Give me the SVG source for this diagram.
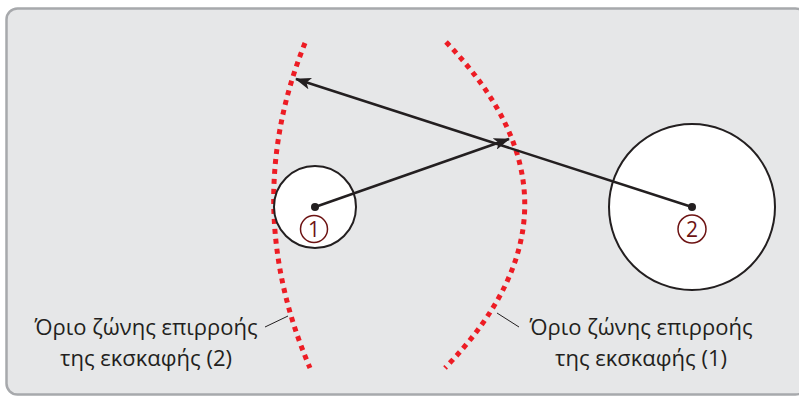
<svg xmlns="http://www.w3.org/2000/svg" width="799" height="397" viewBox="0 0 799 397">
<style>
.frame{fill:#e6e7e8;stroke:#a7a9ac;stroke-width:2.5}
.zone{fill:none;stroke:#ed1c24;stroke-width:5;stroke-dasharray:5 5}
.site{fill:#ffffff;stroke:#231f20;stroke-width:2}
.arrow{fill:none;stroke:#231f20;stroke-width:2.5;marker-end:url(#ah)}
.lead{fill:none;stroke:#231f20;stroke-width:1}
.lbl{font-family:"Open Sans","Noto Sans","DejaVu Sans",sans-serif;font-size:22px;fill:#231f20;text-anchor:middle}
.num{font-family:"Open Sans","Noto Sans","DejaVu Sans",sans-serif;font-size:21px;fill:#6d1313;text-anchor:middle}
.numc{fill:none;stroke:#6d1313;stroke-width:1.5}
</style>
<defs>
<marker id="ah" viewBox="0 0 16 12" refX="15" refY="6" markerWidth="16" markerHeight="12" markerUnits="userSpaceOnUse" orient="auto">
<path d="M0,0 L16,6 L0,12 L4,6 Z" fill="#231f20"/>
</marker>
</defs>
<rect class="frame" x="6.5" y="8.5" width="800" height="386" rx="11"/>
<g id="zone2"><path class="zone" d="M305,43 Q240,205 310,368"/></g>
<g id="zone1"><path class="zone" d="M446,42 Q604,205 445,368"/></g>
<g id="site1">
<circle class="site" cx="315" cy="207" r="41"/>
<circle cx="315" cy="207" r="4" fill="#231f20"/>
<circle class="numc" cx="314" cy="229" r="13.5"/>
<text class="num" x="314" y="237">1</text>
</g>
<g id="site2">
<circle class="site" cx="692" cy="207" r="83"/>
<circle cx="692" cy="207" r="4" fill="#231f20"/>
<circle class="numc" cx="692" cy="229" r="14"/>
<text class="num" x="692" y="237">2</text>
</g>
<g id="connectors">
<line class="arrow" x1="315" y1="207" x2="509" y2="139"/>
<line class="arrow" x1="692" y1="207" x2="296" y2="79"/>
<line class="lead" x1="265" y1="327" x2="288" y2="316"/>
<line class="lead" x1="497" y1="313" x2="519" y2="327"/>
</g>
<g id="label2">
<text class="lbl" x="146" y="335">Όριο ζώνης επιρροής</text>
<text class="lbl" x="146" y="366">της εκσκαφής (2)</text>
</g>
<g id="label1">
<text class="lbl" x="641" y="335">Όριο ζώνης επιρροής</text>
<text class="lbl" x="641" y="366">της εκσκαφής (1)</text>
</g>
</svg>
